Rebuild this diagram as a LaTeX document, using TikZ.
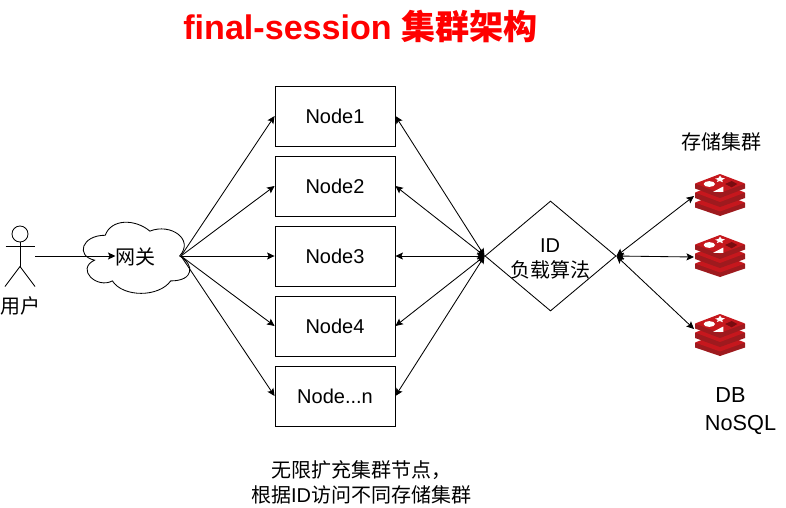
\documentclass[tikz,border=0pt]{standalone}
\usepackage{fontspec}
\setmainfont{Liberation Sans}
\newfontfamily\cjk{Noto Sans CJK SC}
\usetikzlibrary{arrows.meta,shapes.geometric}
\definecolor{rd1}{HTML}{C6171D}
\definecolor{rd2}{HTML}{9E1A1E}
\definecolor{rd3}{HTML}{7A0C10}
\newcommand{\fs}[1]{\fontsize{#1}{#1}\selectfont}
\newcommand{\lowr}[1]{\raisebox{-0.8pt}[\height][\depth]{#1}}
\tikzset{
  x=1pt,y=-1pt,
  line/.style={draw=black,line width=0.85pt},
  tip/.style={-{Stealth[length=7.5pt,width=7pt,inset=1.5pt]}},
  both/.style={{Stealth[length=7.5pt,width=7pt,inset=1.5pt]}-{Stealth[length=7.5pt,width=7pt,inset=1.5pt]}},
  srv/.style={draw=black,line width=0.85pt,minimum width=120pt,minimum height=60pt,inner sep=0pt,font=\fs{20}},
  lab/.style={inner sep=0pt,font=\fs{20},align=center},
  redis/.pic={
    \fill[rd2] (0,29) -- (0,33.5) -- (25,42) -- (50,33.5) -- (50,29) -- cycle;
    \fill[rd1] (0,28.5) -- (25,19) -- (50,28.5) -- (25,37.5) -- cycle;
    \fill[rd2] (0,19) -- (0,24) -- (25,33) -- (50,24) -- (50,19) -- cycle;
    \fill[rd1] (0,18.5) -- (25,9) -- (50,18.5) -- (25,28) -- cycle;
    \fill[rd2] (0,10) -- (0,14.5) -- (25,24) -- (50,14.5) -- (50,10) -- cycle;
    \fill[rd1] (0,9.5) -- (25,0) -- (50,9.5) -- (25,19) -- cycle;
    \fill[white] (14.3,10) ellipse [x radius=5.7,y radius=2.9];
    \fill[white] (18,17.9) -- (28.3,12.5) -- (28.3,17.9) -- cycle;
    \fill[white] (20,4.6) -- (23.4,4) -- (25,1.6) -- (26.6,3.8) -- (30,4.4) -- (27.2,5.9) -- (27.8,8.2) -- (24.8,7) -- (21.8,8) -- (22.8,5.9) -- cycle;
    \fill[rd3] (30,10) -- (36.7,7) -- (42.3,10) -- (36.7,13.3) -- cycle;
  }
}
\begin{document}
\begin{tikzpicture}
\useasboundingbox (0,0) rectangle (786,507);
\node[inner sep=0pt,text=red,font=\fs{34.1}\bfseries] (title) at (360.5,26.5) {final-session {\cjk 集群架构}};
% actor
\coordinate (hip) at (20,266.5);
\coordinate (actorR) at (35,256);
\node[circle,draw=black,line width=0.85pt,minimum size=16pt,inner sep=0pt] (head) at (20,234) {};
\draw[line] (head.south) -- (hip);
\coordinate (armL) at (5.5,246); \coordinate (armR) at (35,246);
\coordinate (legL) at (5,286.5); \coordinate (legR) at (35,286.5);
\draw[line] (armL) -- (armR);
\draw[line] (legL) -- (hip) -- (legR);
\node[lab] (user) at (20.5,306) {\cjk 用户};
% cloud
\begin{scope}[shift={(75.5,214.5)},x=119pt,y=-83pt]
\draw[line,fill=white] (0.25,0.25) .. controls (0.05,0.25) and (0,0.5) .. (0.16,0.55)
  .. controls (0,0.66) and (0.18,0.9) .. (0.31,0.8)
  .. controls (0.4,1) and (0.7,1) .. (0.8,0.8)
  .. controls (1,0.8) and (1,0.6) .. (0.875,0.5)
  .. controls (1,0.3) and (0.8,0.1) .. (0.625,0.2)
  .. controls (0.5,0.05) and (0.3,0.05) .. (0.25,0.25) -- cycle;
\end{scope}
\node[lab] (gw) at (135.5,257) {\cjk 网关};
\coordinate (gwR) at (181,256);
\coordinate (gwL) at (115.5,256);
% servers
\node[srv] (n1) at (335,116) {\lowr{Node1}};
\node[srv] (n2) at (335,186) {\lowr{Node2}};
\node[srv] (n3) at (335,256) {\lowr{Node3}};
\node[srv] (n4) at (335,326) {\lowr{Node4}};
\node[srv] (n5) at (335,396) {\lowr{Node...n}};
% diamond
\node[diamond,draw=black,line width=0.85pt,minimum width=131pt,minimum height=110pt,inner sep=0pt,aspect=1.19] (lb) at (550.5,256) {};
\node[lab] (id) at (550,245.5) {ID};
\node[lab] (alg) at (550.5,270) {\cjk 负载算法};
% redis
\pic at (695,174) {redis};
\pic at (695,235) {redis};
\pic at (695,314) {redis};
\coordinate (r1) at (694,196);
\coordinate (r2) at (694,257);
\coordinate (r3) at (694,329);
\node[lab] (store) at (721,142) {\cjk 存储集群};
\node[lab,font=\fs{21.7}] (db) at (730.5,395) {DB};
\node[lab,font=\fs{21.7}] (nosql) at (740.5,425) {NoSQL};
\node[lab,anchor=center] (c1) at (361,470) {\cjk 无限扩充集群节点，};
\node[lab,anchor=center] (c2) at (361,495) {{\cjk 根据}ID{\cjk 访问不同存储集群}};
% connectors
\draw[line,tip] (actorR) -- (gwL);
\foreach \n in {n1,n2,n3,n4,n5}{
  \draw[line,tip] (gwR) -- (\n.west);
  \draw[line,both] (\n.east) -- (lb.west);
}
\foreach \r in {r1,r2,r3}{
  \draw[line,both] (lb.east) -- (\r);
}
\end{tikzpicture}
\end{document}
